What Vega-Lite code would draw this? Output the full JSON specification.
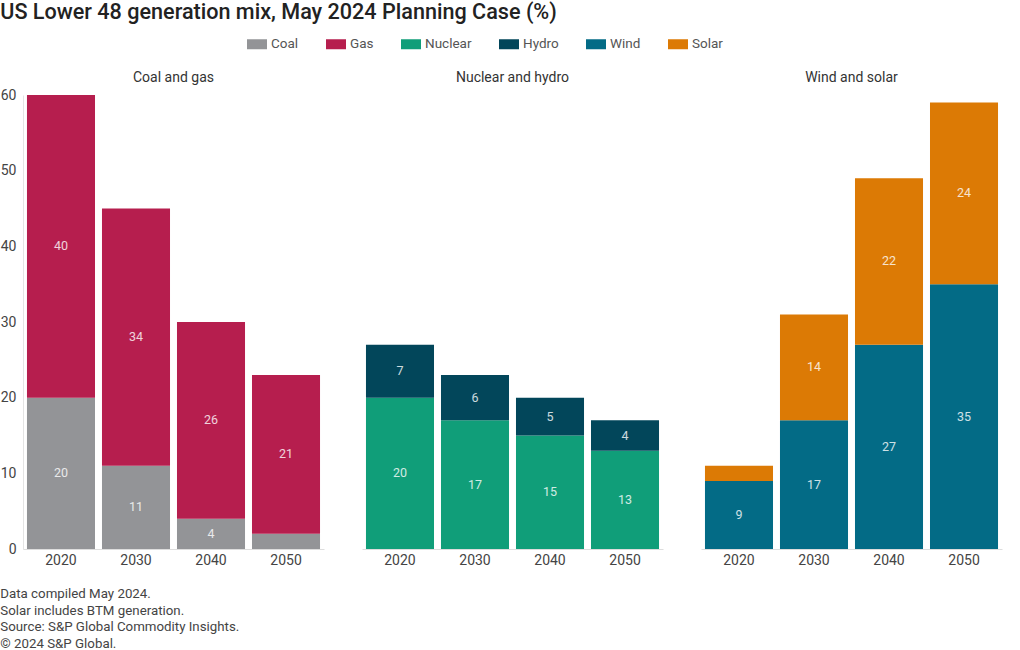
{
  "$schema": "https://vega.github.io/schema/vega-lite/v6.json",
  "background": "white",
  "padding": {"left": 0, "top": 2, "right": 8, "bottom": 4},
  "config": {
    "font": "Roboto",
    "view": {"stroke": null},
    "facet": {"spacing": 38},
    "concat": {"spacing": 0}
  },
  "title": {
    "text": ["Data compiled May 2024.", "Solar includes BTM generation.", "Source: S&P Global Commodity Insights.", "© 2024 S&P Global."],
    "orient": "bottom",
    "anchor": "start",
    "frame": "bounds",
    "fontSize": 13.3,
    "fontWeight": "normal",
    "color": "#444",
    "lineHeight": 16.5,
    "offset": 20
  },
  "vconcat": [
    {
      "title": {
        "text": "US Lower 48 generation mix, May 2024 Planning Case (%)",
        "anchor": "start",
        "frame": "bounds",
        "fontSize": 21.6,
        "fontWeight": 500,
        "color": "#222",
        "offset": 47
      },
      "data": {
        "values": [
          {"panel": "Coal and gas", "year": "2020", "fuel": "Coal", "value": 20},
          {"panel": "Coal and gas", "year": "2020", "fuel": "Gas", "value": 40},
          {"panel": "Coal and gas", "year": "2030", "fuel": "Coal", "value": 11},
          {"panel": "Coal and gas", "year": "2030", "fuel": "Gas", "value": 34},
          {"panel": "Coal and gas", "year": "2040", "fuel": "Coal", "value": 4},
          {"panel": "Coal and gas", "year": "2040", "fuel": "Gas", "value": 26},
          {"panel": "Coal and gas", "year": "2050", "fuel": "Coal", "value": 2},
          {"panel": "Coal and gas", "year": "2050", "fuel": "Gas", "value": 21},
          {"panel": "Nuclear and hydro", "year": "2020", "fuel": "Nuclear", "value": 20},
          {"panel": "Nuclear and hydro", "year": "2020", "fuel": "Hydro", "value": 7},
          {"panel": "Nuclear and hydro", "year": "2030", "fuel": "Nuclear", "value": 17},
          {"panel": "Nuclear and hydro", "year": "2030", "fuel": "Hydro", "value": 6},
          {"panel": "Nuclear and hydro", "year": "2040", "fuel": "Nuclear", "value": 15},
          {"panel": "Nuclear and hydro", "year": "2040", "fuel": "Hydro", "value": 5},
          {"panel": "Nuclear and hydro", "year": "2050", "fuel": "Nuclear", "value": 13},
          {"panel": "Nuclear and hydro", "year": "2050", "fuel": "Hydro", "value": 4},
          {"panel": "Wind and solar", "year": "2020", "fuel": "Wind", "value": 9},
          {"panel": "Wind and solar", "year": "2020", "fuel": "Solar", "value": 2},
          {"panel": "Wind and solar", "year": "2030", "fuel": "Wind", "value": 17},
          {"panel": "Wind and solar", "year": "2030", "fuel": "Solar", "value": 14},
          {"panel": "Wind and solar", "year": "2040", "fuel": "Wind", "value": 27},
          {"panel": "Wind and solar", "year": "2040", "fuel": "Solar", "value": 22},
          {"panel": "Wind and solar", "year": "2050", "fuel": "Wind", "value": 35},
          {"panel": "Wind and solar", "year": "2050", "fuel": "Solar", "value": 24}
        ]
      },
      "transform": [
        {"calculate": "indexof(['Coal', 'Gas', 'Nuclear', 'Hydro', 'Wind', 'Solar'], datum.fuel)", "as": "stack_rank"}
      ],
      "facet": {
        "column": {
          "field": "panel",
          "type": "nominal",
          "sort": ["Coal and gas", "Nuclear and hydro", "Wind and solar"],
          "header": {"title": null, "labelFontSize": 14, "labelColor": "#333", "labelPadding": 10}
        }
      },
      "spec": {
        "width": 301,
        "height": 454,
        "encoding": {
          "x": {
            "field": "year",
            "type": "ordinal",
            "scale": {"paddingInner": 0.093, "paddingOuter": 0.053},
            "axis": {"title": null, "labelAngle": 0, "labelFontSize": 14, "labelColor": "#444", "ticks": false, "domainColor": "#dddddd", "labelPadding": 4}
          },
          "y": {
            "field": "value",
            "type": "quantitative",
            "stack": "zero",
            "scale": {"domain": [0, 60], "nice": false},
            "axis": {"title": null, "values": [0, 10, 20, 30, 40, 50, 60], "grid": false, "ticks": false, "domainColor": "#e4e4e4", "labelFontSize": 14, "labelColor": "#444", "labelPadding": 7}
          },
          "order": {"field": "stack_rank", "type": "quantitative", "sort": "ascending"}
        },
        "layer": [
          {
            "mark": {"type": "bar"},
            "encoding": {
              "color": {
                "field": "fuel",
                "type": "nominal",
                "sort": ["Coal", "Gas", "Nuclear", "Hydro", "Wind", "Solar"],
                "scale": {
                  "domain": ["Coal", "Gas", "Nuclear", "Hydro", "Wind", "Solar"],
                  "range": ["#939497", "#b61e4e", "#109e79", "#02465a", "#036b86", "#dc7a05"]
                },
                "legend": {
                  "title": null,
                  "orient": "none",
                  "direction": "horizontal",
                  "legendX": 224,
                  "legendY": -61,
                  "symbolType": "M-1,-0.5H1V0.5H-1Z",
                  "symbolSize": 400,
                  "symbolStrokeWidth": 0,
                  "symbolOpacity": 1,
                  "labelFontSize": 13.5,
                  "labelColor": "#555",
                  "labelOffset": 4,
                  "columnPadding": 27
                }
              }
            }
          },
          {
            "mark": {"type": "text", "fontSize": 12.5, "color": "#ffffff", "opacity": 0.8},
            "encoding": {
              "y": {"field": "value", "type": "quantitative", "stack": "zero", "bandPosition": 0.5},
              "detail": {"field": "fuel", "type": "nominal"},
              "text": {"condition": {"test": "datum.value < 3", "value": ""}, "field": "value", "type": "quantitative"}
            }
          }
        ]
      }
    }
  ]
}
